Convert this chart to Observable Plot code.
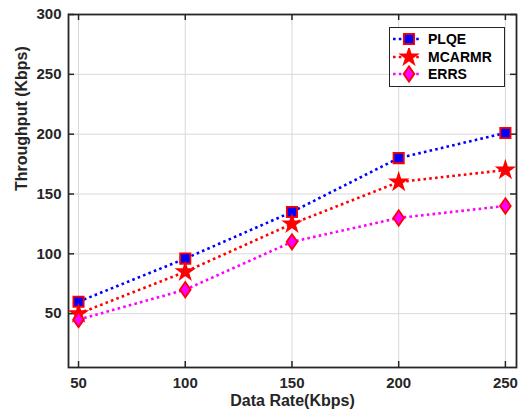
<!DOCTYPE html>
<html><head><meta charset="utf-8">
<script src="https://cdn.jsdelivr.net/npm/d3@7"></script>
<script src="https://cdn.jsdelivr.net/npm/@observablehq/plot@0.6"></script>
<style>
body{margin:0;background:#fff;font-family:"Liberation Sans",Arial,sans-serif;}
#wrap{position:relative;width:523px;height:415px;}
#legend{position:absolute;left:389px;top:27px;width:114px;height:58px;border:1.5px solid #262626;background:#fff;font-weight:bold;font-size:14px;}
.row{position:absolute;left:0;height:18px;display:flex;align-items:center;}
.row svg{display:block}
.row span{margin-left:4px;color:#000}
</style></head>
<body><div id="wrap"></div>
<script>
const dataRate = [50, 100, 150, 200, 250];
const plqe = [60, 96, 135, 180, 201];
const mcarmr = [50, 85, 125, 160, 170];
const errs = [45, 70, 110, 130, 140];
const xTicks = [50, 100, 150, 200, 250];
const yTicks = [50, 100, 150, 200, 250, 300];
const seriesNames = ["PLQE", "MCARMR", "ERRS"];

const W = 523, H = 415, mL = 68, mT = 14, mR = 7, mB = 48;
const innerW = W - mL - mR, innerH = H - mT - mB;

// MATLAB-like diamond (wider than d3's)
const wideDiamond = {
  draw(context, size) {
    const h = Math.sqrt(size / 1.4), w = 0.7 * h;
    context.moveTo(0, -h); context.lineTo(w, 0); context.lineTo(0, h); context.lineTo(-w, 0); context.closePath();
  }
};
const symbolTypes = {square: d3.symbolSquare, star: d3.symbolStar, diamond: wideDiamond};

const styles = {
  PLQE: {line: "#0000ff", symbol: "square", fill: "#0000ff", stroke: "#ff0000", r: 5.8},
  MCARMR: {line: "#ff0000", symbol: "star", fill: "#ff0000", stroke: "#ff0000", r: 5},
  ERRS: {line: "#ff00ff", symbol: "diamond", fill: "#ff00ff", stroke: "#ff0000", r: 5.1}
};
const vals = {PLQE: plqe, MCARMR: mcarmr, ERRS: errs};
const rows = seriesNames.flatMap(s => dataRate.map((x, i) => ({series: s, x, y: vals[s][i]})));

const marks = [
  Plot.gridX(xTicks, {stroke: "#d9d9d9", strokeOpacity: 1, strokeWidth: 1}),
  Plot.gridY(yTicks, {stroke: "#d9d9d9", strokeOpacity: 1, strokeWidth: 1}),
  Plot.tickX(xTicks, {x: d => d, insetTop: innerH - 6, stroke: "#262626", strokeWidth: 1.5}),
  Plot.tickX(xTicks, {x: d => d, insetBottom: innerH - 6, stroke: "#262626", strokeWidth: 1.5}),
  Plot.tickY(yTicks, {y: d => d, insetRight: innerW - 6, stroke: "#262626", strokeWidth: 1.5}),
  Plot.tickY(yTicks, {y: d => d, insetLeft: innerW - 6, stroke: "#262626", strokeWidth: 1.5}),
  Plot.frame({stroke: "#262626", strokeWidth: 1.8}),
  Plot.axisX(xTicks, {tickSize: 0, tickPadding: 10, fontSize: 15, fontWeight: "bold", fill: "#262626", label: null}),
  Plot.axisY(yTicks, {tickSize: 0, tickPadding: 7, fontSize: 15, fontWeight: "bold", fill: "#262626", label: null}),
  Plot.text(["Data Rate(Kbps)"], {frameAnchor: "bottom", dy: 38, fontSize: 16, fontWeight: "bold", fill: "#262626"}),
  Plot.text(["Throughput (Kbps)"], {frameAnchor: "left", dx: -47, rotate: -90, fontSize: 16, fontWeight: "bold", fill: "#262626"})
];
for (const s of seriesNames) {
  const st = styles[s];
  const d = rows.filter(r => r.series === s);
  marks.push(Plot.line(d, {x: "x", y: "y", stroke: st.line, strokeWidth: 2.6, strokeDasharray: "2.6,3.2", strokeLinecap: "butt"}));
}
for (const s of seriesNames) {
  const st = styles[s];
  const d = rows.filter(r => r.series === s);
  marks.push(Plot.dot(d, {x: "x", y: "y", symbol: () => symbolTypes[st.symbol], r: st.r, fill: st.fill, stroke: st.stroke, strokeWidth: 1.8}));
}

const chart = Plot.plot({
  width: W, height: H,
  marginLeft: mL, marginTop: mT, marginRight: mR, marginBottom: mB,
  style: {fontFamily: '"Liberation Sans", Arial, sans-serif', background: "#fff"},
  x: {domain: [45.3, 255.2]},
  y: {domain: [5, 300]},
  symbol: {type: "identity"},
  marks
});
const wrap = document.getElementById("wrap");
wrap.appendChild(chart);

const leg = document.createElement("div");
leg.id = "legend";
seriesNames.forEach((s, i) => {
  const st = styles[s];
  const row = document.createElement("div");
  row.className = "row";
  row.style.top = (2 + i * 17.5) + "px";
  const sym = d3.symbol().type(symbolTypes[st.symbol]).size(Math.PI * st.r * st.r)();
  row.innerHTML = `<svg width="34" height="18"><line x1="3" x2="31" y1="9" y2="9" stroke="${st.line}" stroke-width="2.6" stroke-dasharray="2.6,3.2"/><path transform="translate(19,9)" d="${sym}" fill="${st.fill}" stroke="${st.stroke}" stroke-width="1.8"/></svg><span>${s}</span>`;
  leg.appendChild(row);
});
wrap.appendChild(leg);
</script></body></html>
